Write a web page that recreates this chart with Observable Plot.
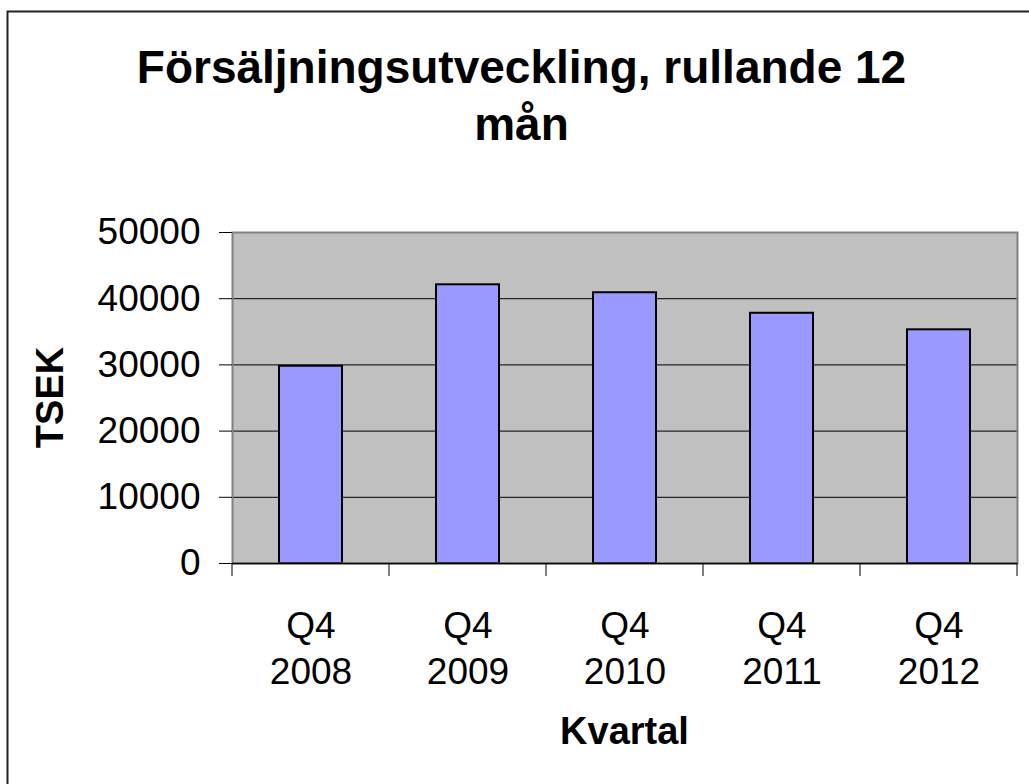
<!DOCTYPE html>
<html>
<head>
<meta charset="utf-8">
<script src="https://cdn.jsdelivr.net/npm/d3@7"></script>
<script src="https://cdn.jsdelivr.net/npm/@observablehq/plot@0.6"></script>
<style>
  html, body { margin: 0; padding: 0; background: #fff; }
  #chart svg { display: block; }
</style>
</head>
<body>
<div id="chart"></div>
<script>
const quarters = ["Q4 2008", "Q4 2009", "Q4 2010", "Q4 2011", "Q4 2012"];
const sales = [29800, 42100, 40900, 37800, 35300];
const yTicks = [0, 10000, 20000, 30000, 40000, 50000];
const titleLines = ["Försäljningsutveckling, rullande 12", "mån"];
const yLabel = "TSEK";
const xLabel = "Kvartal";

const data = quarters.map((q, i) => ({quarter: q, value: sales[i]}));

const W = 1029, H = 784;
const FONT = "'Liberation Sans', Arial, Helvetica, sans-serif";

const chart = Plot.plot({
  width: W,
  height: H,
  marginLeft: 232,
  marginTop: 232,
  marginRight: 12,
  marginBottom: 221,
  style: {background: "#fff", fontFamily: FONT, color: "#000"},
  x: {domain: quarters, paddingInner: 0.6, paddingOuter: 0.3},
  y: {domain: [0, 50000]},
  marks: [
    Plot.frame({fill: "#c0c0c0", stroke: null}),
    Plot.gridY(yTicks, {stroke: "#000", strokeOpacity: 1, strokeWidth: 1}),
    Plot.barY(data, {x: "quarter", y: "value", fill: "#9999ff", stroke: "#000", strokeWidth: 2}),
    Plot.frame({stroke: "#808080", strokeWidth: 2}),
    Plot.ruleY([0], {stroke: "#000", strokeWidth: 1.5}),
    Plot.axisY(yTicks, {
      tickSize: 13, tickPadding: 19, fontSize: 37, tickFormat: d3.format("d"),
      label: null, stroke: "#000"
    }),
    Plot.axisX({
      tickSize: 0, tickPadding: 42, fontSize: 37, lineHeight: 1.24,
      tickFormat: d => d.replace(" ", "\n"), label: null
    })
  ]
});

document.getElementById("chart").appendChild(chart);

const svg = d3.select(chart);
const xs = chart.scale("x");
const ys = chart.scale("y");
const y0 = ys.apply(0);
const step = xs.step;

// outer chart-area border
svg.insert("rect", ":first-child")
  .attr("x", 7.5).attr("y", 11.5)
  .attr("width", W + 10).attr("height", H + 10)
  .attr("fill", "#fff").attr("stroke", "#222").attr("stroke-width", 2);

// category boundary ticks on the x axis
const bounds = quarters.map(q => xs.apply(q) - (step - xs.bandwidth) / 2);
bounds.push(bounds[bounds.length - 1] + step);
svg.append("g").selectAll("line").data(bounds).join("line")
  .attr("x1", d => d).attr("x2", d => d)
  .attr("y1", y0).attr("y2", y0 + 13)
  .attr("stroke", "#000").attr("stroke-width", 1);

// title
const title = svg.append("text")
  .attr("text-anchor", "middle")
  .attr("font-family", FONT)
  .attr("font-weight", "bold")
  .attr("font-size", 46)
  .attr("fill", "#000");
titleLines.forEach((t, i) => {
  title.append("tspan").attr("x", 521.5).attr("y", 83 + i * 57).text(t);
});

// y label
const plotMidY = (ys.apply(0) + ys.apply(50000)) / 2;
svg.append("text")
  .attr("transform", `translate(62.5,${plotMidY}) rotate(-90)`)
  .attr("text-anchor", "middle")
  .attr("font-family", FONT)
  .attr("font-weight", "bold")
  .attr("font-size", 38)
  .attr("fill", "#000")
  .text(yLabel);

// x label
const plotMidX = (xs.range[0] + xs.range[1]) / 2;
svg.append("text")
  .attr("x", plotMidX).attr("y", 744)
  .attr("text-anchor", "middle")
  .attr("font-family", FONT)
  .attr("font-weight", "bold")
  .attr("font-size", 38)
  .attr("fill", "#000")
  .text(xLabel);
</script>
</body>
</html>
